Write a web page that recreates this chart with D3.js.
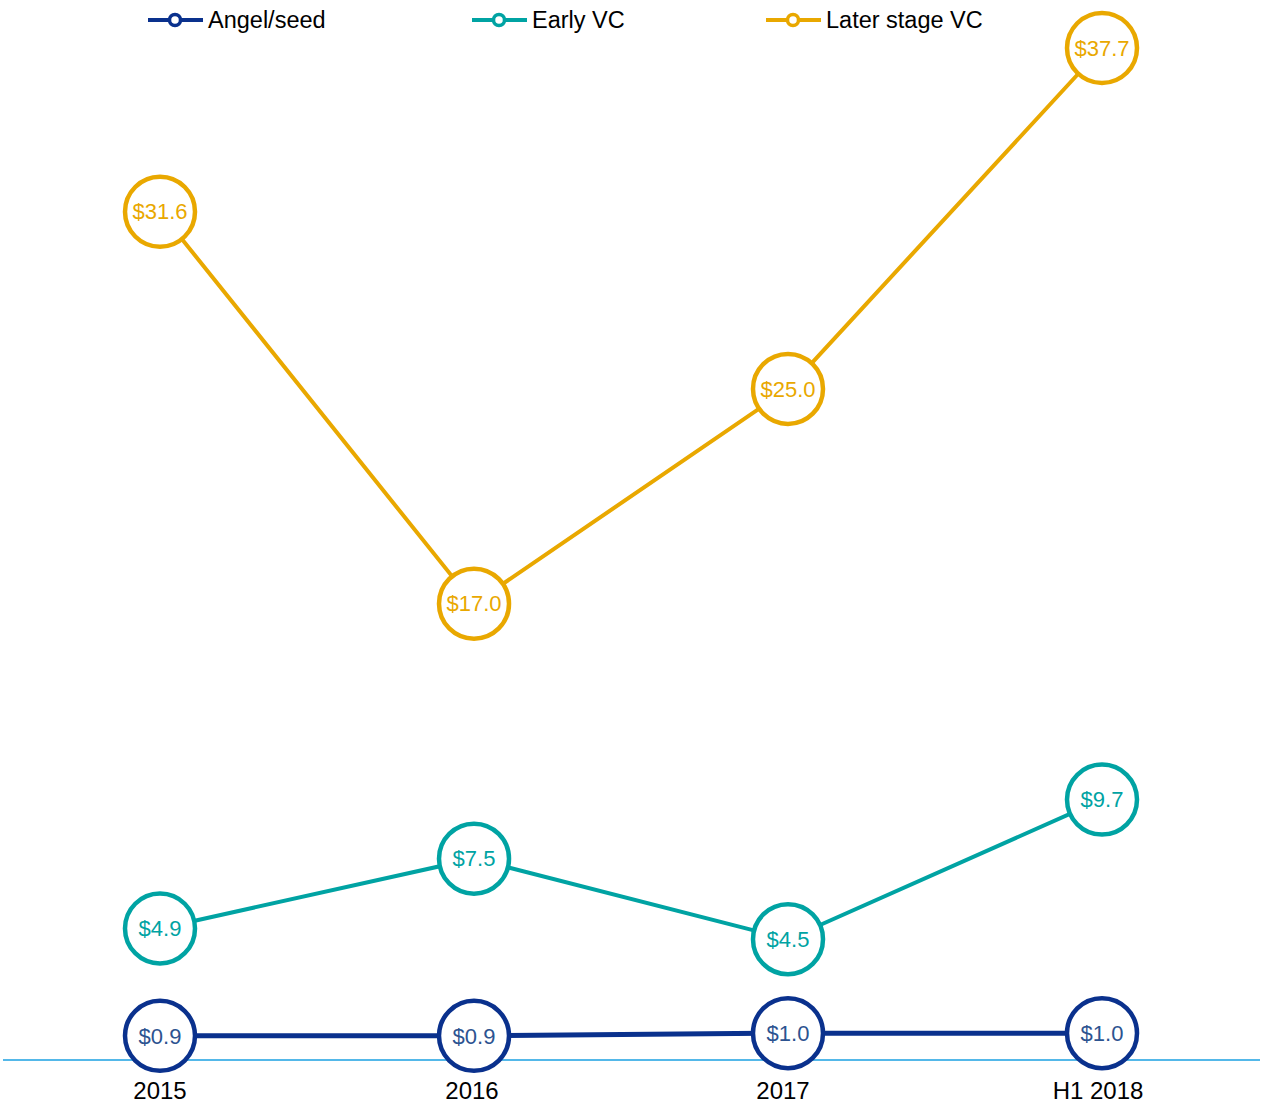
<!DOCTYPE html>
<html>
<head>
<meta charset="utf-8">
<script src="https://cdn.jsdelivr.net/npm/d3@7"></script>
<style>
  body { margin: 0; background: #fff; }
  text { font-family: "Liberation Sans", Arial, sans-serif; }
</style>
</head>
<body>
<svg id="chart" width="1265" height="1103"></svg>
<script>
const periods = ["2015", "2016", "2017", "H1 2018"];
const angelSeed = [0.9, 0.9, 1.0, 1.0];
const earlyVC = [4.9, 7.5, 4.5, 9.7];
const laterVC = [31.6, 17.0, 25.0, 37.7];

const series = [
    {name: "Angel/seed", values: angelSeed, color: "#0a318d", label: "#2c5390", width: 5},
    {name: "Early VC", values: earlyVC, color: "#00a3a3", label: "#00a3a3", width: 4},
    {name: "Later stage VC", values: laterVC, color: "#e9a800", label: "#e9a800", width: 4}
];

const svg = d3.select("#chart");

const x = d3.scalePoint()
    .domain(periods)
    .range([160, 1102]);

const y = d3.scaleLinear()
    .domain([0, 37.7])
    .range([1060, 48]);

// baseline
svg.append("line")
    .attr("x1", 3).attr("x2", 1260)
    .attr("y1", y(0)).attr("y2", y(0))
    .attr("stroke", "#1ba1e2")
    .attr("stroke-width", 1.5);

// x labels
const xLabelOffset = [0, -2, -5, -4];
svg.append("g")
    .selectAll("text")
    .data(periods)
    .join("text")
    .attr("x", (d, i) => x(d) + xLabelOffset[i])
    .attr("y", 1099)
    .attr("text-anchor", "middle")
    .attr("font-size", 24)
    .attr("fill", "#000")
    .text(d => d);

const line = d3.line()
    .x((d, i) => x(periods[i]))
    .y(d => y(d));

series.forEach(s => {
    const g = svg.append("g");
    g.append("path")
        .datum(s.values)
        .attr("d", line)
        .attr("fill", "none")
        .attr("stroke", s.color)
        .attr("stroke-width", s.width);

    const pts = g.selectAll("g.pt")
        .data(s.values)
        .join("g")
        .attr("class", "pt")
        .attr("transform", (d, i) => `translate(${x(periods[i])},${y(d)})`);

    pts.append("circle")
        .attr("r", 35)
        .attr("fill", "#fff")
        .attr("stroke", s.color)
        .attr("stroke-width", 4.5);

    pts.append("text")
        .attr("text-anchor", "middle")
        .attr("dy", "0.35em")
        .attr("font-size", 22)
        .attr("fill", s.label)
        .text(d => `$${d.toFixed(1)}`);
});

// legend
const legendX = [148, 472, 766];
const legend = svg.append("g")
    .selectAll("g")
    .data(series)
    .join("g")
    .attr("transform", (d, i) => `translate(${legendX[i]},20)`);

legend.append("line")
    .attr("x1", 0).attr("x2", 55)
    .attr("stroke", d => d.color)
    .attr("stroke-width", 4);

legend.append("circle")
    .attr("cx", 27)
    .attr("r", 5.5)
    .attr("fill", "#fff")
    .attr("stroke", d => d.color)
    .attr("stroke-width", 3.5);

legend.append("text")
    .attr("x", 60)
    .attr("dy", "0.35em")
    .attr("font-size", 23.5)
    .attr("fill", "#000")
    .text(d => d.name);
</script>
</body>
</html>
